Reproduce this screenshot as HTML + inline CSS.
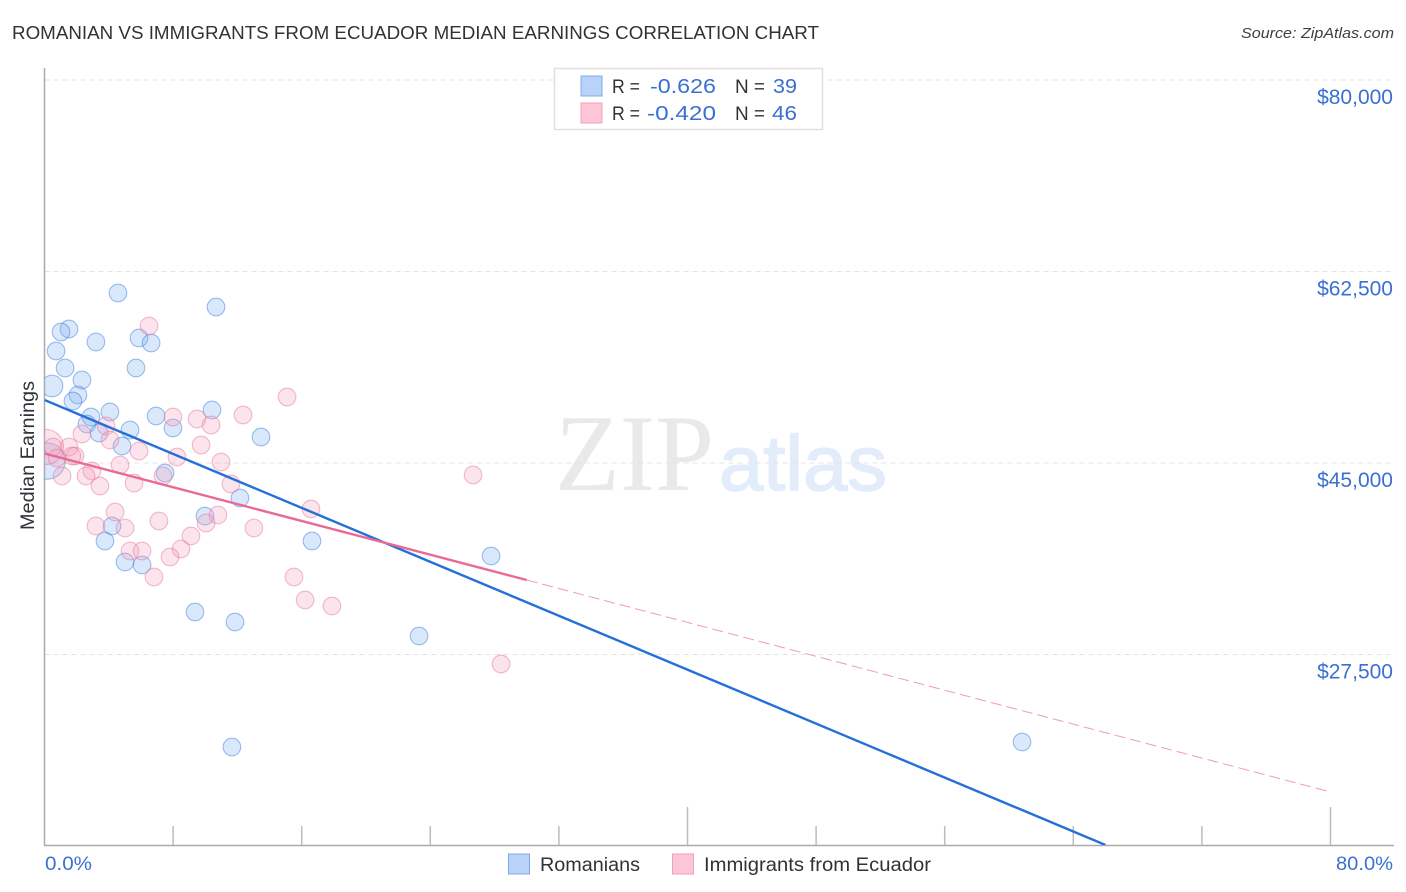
<!DOCTYPE html>
<html>
<head>
<meta charset="utf-8">
<title>Romanian vs Immigrants from Ecuador Median Earnings Correlation Chart</title>
<style>
html,body{margin:0;padding:0;background:#fff;}
svg{display:block;font-family:"Liberation Sans",sans-serif;}
</style>
</head>
<body>
<svg id="chart" width="1406" height="892" viewBox="0 0 1406 892" xmlns="http://www.w3.org/2000/svg">
  <defs>
    <clipPath id="plot-clip"><rect x="44.5" y="60" width="1350" height="785"/></clipPath>
  </defs>
  <rect width="1406" height="892" fill="#ffffff"/>
  <text x="12" y="39" font-size="18.5" fill="#2f3338" textLength="807" lengthAdjust="spacingAndGlyphs">ROMANIAN VS IMMIGRANTS FROM ECUADOR MEDIAN EARNINGS CORRELATION CHART</text>
  <text x="1241" y="38" font-size="15" font-style="italic" fill="#3c4046" textLength="153" lengthAdjust="spacingAndGlyphs">Source: ZipAtlas.com</text>

  <g>
    <text x="555" y="490" font-family="'Liberation Serif',serif" font-size="109" fill="#e9e9e9" textLength="159" lengthAdjust="spacingAndGlyphs">ZIP</text>
    <text x="719" y="490" font-size="78" fill="#e3ecfa" stroke="#e3ecfa" stroke-width="1.5" textLength="168" lengthAdjust="spacingAndGlyphs">atlas</text>
  </g>

  <g id="grid"></g>
  <g id="axes"></g>
  <g id="marks" clip-path="url(#plot-clip)"></g>
  <g id="trends" clip-path="url(#plot-clip)"></g>
  <g id="ylabels"></g>

  <text transform="translate(34 455.5) rotate(-90)" text-anchor="middle" font-size="19" fill="#2f3338" textLength="149" lengthAdjust="spacingAndGlyphs">Median Earnings</text>
  <text x="45" y="870" font-size="19" fill="#3b70d2" textLength="47" lengthAdjust="spacingAndGlyphs">0.0%</text>
  <text x="1336" y="870" font-size="19" fill="#3b70d2" textLength="57" lengthAdjust="spacingAndGlyphs">80.0%</text>

  <g>
    <rect x="554.5" y="68.5" width="268" height="61" fill="#ffffff" stroke="#e0e0e0" stroke-width="1.5"/>
    <rect x="581" y="76" width="21" height="20" fill="#b9d3f8" stroke="#7fabe4" stroke-width="1"/>
    <rect x="581" y="103" width="21" height="20" fill="#fcc6d8" stroke="#f0a0ba" stroke-width="1"/>
    <g font-size="20" fill="#2f3338">
      <text x="612" y="93" font-size="19" textLength="28" lengthAdjust="spacingAndGlyphs">R =</text>
      <text x="650" y="93" fill="#3b70d2" textLength="66" lengthAdjust="spacingAndGlyphs">-0.626</text>
      <text x="735" y="93" font-size="19" textLength="30" lengthAdjust="spacingAndGlyphs">N =</text>
      <text x="773" y="93" fill="#3b70d2" textLength="24" lengthAdjust="spacingAndGlyphs">39</text>
      <text x="612" y="120" font-size="19" textLength="28" lengthAdjust="spacingAndGlyphs">R =</text>
      <text x="647" y="120" fill="#3b70d2" textLength="69" lengthAdjust="spacingAndGlyphs">-0.420</text>
      <text x="735" y="120" font-size="19" textLength="30" lengthAdjust="spacingAndGlyphs">N =</text>
      <text x="772" y="120" fill="#3b70d2" textLength="25" lengthAdjust="spacingAndGlyphs">46</text>
    </g>
  </g>

  <g>
    <rect x="508.5" y="854" width="21" height="20" fill="#b9d3f8" stroke="#7fabe4" stroke-width="1"/>
    <text x="540" y="871" font-size="19" fill="#2f3338" textLength="100" lengthAdjust="spacingAndGlyphs">Romanians</text>
    <rect x="672.5" y="854" width="21" height="20" fill="#fcc6d8" stroke="#f0a0ba" stroke-width="1"/>
    <text x="704" y="871" font-size="19" fill="#2f3338" textLength="227" lengthAdjust="spacingAndGlyphs">Immigrants from Ecuador</text>
  </g>
</svg>
<script>
var yTickValues = [80000, 62500, 45000, 27500];
var yTickLabels = ['$80,000', '$62,500', '$45,000', '$27,500'];
var xTickValues = [0, 8, 16, 24, 32, 40, 48, 56, 64, 72, 80];
var xMajorTicks = [40, 80];

var romaniansX = [4.57,10.67,1.52,1.03,3.20,5.88,6.63,0.72,1.28,5.69,2.33,0.47,2.08,1.77,4.07,6.94,10.42,2.89,2.64,7.99,3.39,5.32,4.82,13.47,7.50,12.16,9.98,4.20,3.76,16.64,27.78,5.01,6.07,9.36,11.85,23.30,11.66,60.81,0.16];
var romaniansY = [60535,59255,57245,56971,56057,56423,55966,55235,53681,53681,52585,52036,51214,50666,49660,49295,49843,49203,48564,48198,47741,48016,46553,47376,44086,41802,40157,39243,37872,37872,36502,35953,35679,31384,30471,29191,19048,19505,45183];
var romaniansWeight = [1,1,1,1,1,1,1,1,1,1,1,1.5,1,1,1,1,1,1,1,1,1,1,1,1,1,1,1,1,1,1,1,1,1,1,1,1,1,1,4.3];

var ecuadorX = [6.50,15.09,12.35,9.49,7.99,10.36,9.74,3.83,2.33,4.07,5.88,8.24,10.98,4.70,1.52,1.90,1.71,2.95,2.58,1.09,3.45,5.57,7.37,11.60,16.58,0.09,0.53,0.78,4.39,7.12,3.20,5.01,10.79,10.05,13.03,9.11,8.49,7.81,5.32,6.07,6.81,15.52,16.21,17.88,26.66,28.40];
var ecuadorY = [57519,51031,49386,49021,49203,48472,46645,48381,47650,47102,46097,45548,45091,44817,46462,45640,45640,44269,43812,43812,42898,43172,43812,43081,40797,46462,46462,45457,40522,39700,39243,39060,40248,39517,39060,38329,37141,36410,36959,36959,34583,34583,32481,31933,43903,26633];
var ecuadorWeight = [1,1,1,1,1,1,1,1,1,1,1,1,1,1,1,1,1,1,1,1,1,1,1,1,1,4,1,1,1,1,1,1,1,1,1,1,1,1,1,1,1,1,1,1,1,1];

var romaniansTrendX = [0, 66];
var romaniansTrendY = [50757, 10092];
var ecuadorTrendSolidX = [0, 30];
var ecuadorTrendSolidY = [45868, 34308];
var ecuadorTrendDashX = [30, 80];
var ecuadorTrendDashY = [34308, 14936];

var NS = 'http://www.w3.org/2000/svg';
function xScale(v) { return 44.5 + v * 16.075; }
function yScale(v) { return 463 - (v - 45000) * 191.5 / 17500; }
function make(parent, tag, attrs) {
  var el = document.createElementNS(NS, tag);
  for (var k in attrs) { el.setAttribute(k, attrs[k]); }
  parent.appendChild(el);
  return el;
}

var gridG = document.getElementById('grid');
var axesG = document.getElementById('axes');
var marksG = document.getElementById('marks');
var trendsG = document.getElementById('trends');
var ylabelsG = document.getElementById('ylabels');

yTickValues.forEach(function (v, i) {
  var line = make(gridG, 'line', {x1: 44.5, x2: 1394, y1: yScale(v), y2: yScale(v), stroke: '#e4e4e4', 'stroke-width': 1, 'stroke-dasharray': '5 4'});
  
  
  var label = make(ylabelsG, 'text', {x: 1393, y: yScale(v) + 24, 'text-anchor': 'end', 'font-size': 21, fill: '#3b70d2'});
  label.textContent = yTickLabels[i];
  
  
});

var yAxis = make(axesG, 'line', {x1: 44.5, x2: 44.5, y1: 68, y2: 845.5, stroke: '#ababab', 'stroke-width': 1.5});


var xAxis = make(axesG, 'line', {x1: 44, x2: 1394, y1: 845.5, y2: 845.5, stroke: '#ababab', 'stroke-width': 1.5});



xTickValues.forEach(function (v) {
  if (v === 0) { return; }
  var top = xMajorTicks.indexOf(v) >= 0 ? 807 : 826;
  var tick = make(axesG, 'line', {x1: xScale(v), x2: xScale(v), y1: top, y2: 845, stroke: '#bcbcbc', 'stroke-width': 1.5});
  
  
});

function drawPoint(x, y, w, fill, stroke, name) {
  var c = make(marksG, 'circle', {cx: xScale(x), cy: yScale(y), r: 8.8 * Math.sqrt(w), fill: fill, 'fill-opacity': 0.28, stroke: stroke, 'stroke-opacity': 0.5, 'stroke-width': 1.1});
  
  
}
romaniansX.forEach(function (x, i) {
  drawPoint(x, romaniansY[i], romaniansWeight[i], '#79abef', '#3f80dc', 'point-romanians');
});
ecuadorX.forEach(function (x, i) {
  drawPoint(x, ecuadorY[i], ecuadorWeight[i], '#f69fbc', '#e8769c', 'point-ecuador');
});

var blueTrend = make(trendsG, 'line', {x1: xScale(romaniansTrendX[0]), y1: yScale(romaniansTrendY[0]), x2: xScale(romaniansTrendX[1]), y2: yScale(romaniansTrendY[1]), stroke: '#2470d8', 'stroke-width': 2.4});


var pinkTrend = make(trendsG, 'line', {x1: xScale(ecuadorTrendSolidX[0]), y1: yScale(ecuadorTrendSolidY[0]), x2: xScale(ecuadorTrendSolidX[1]), y2: yScale(ecuadorTrendSolidY[1]), stroke: '#ea6a96', 'stroke-width': 2.4});


var pinkDash = make(trendsG, 'line', {x1: xScale(ecuadorTrendDashX[0]), y1: yScale(ecuadorTrendDashY[0]), x2: xScale(ecuadorTrendDashX[1]), y2: yScale(ecuadorTrendDashY[1]), stroke: '#f29ab6', 'stroke-width': 1, 'stroke-dasharray': '11 5'});


</script>
</body>
</html>
